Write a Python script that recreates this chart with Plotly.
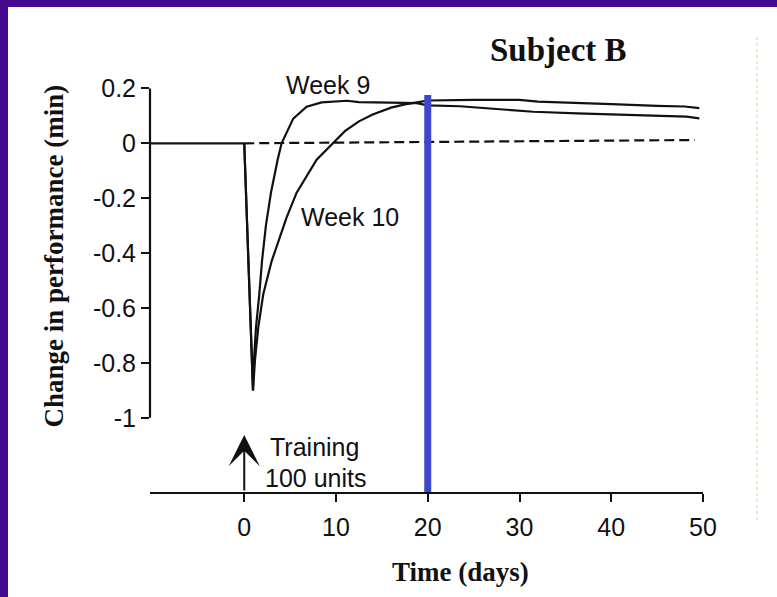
import plotly.graph_objects as go

# ---------------- data ----------------
week9_days = [0, 0.95, 1.06, 1.28, 1.64, 1.93, 2.36, 2.91, 3.64, 4.07, 5.34, 6.8, 8.43,
              11.2, 12.5, 14.0, 15.9, 18.8, 20.0, 23.5, 27.5, 31.5, 36.3, 42.4, 48.2, 49.6]
week9_vals = [0, -0.9, -0.79, -0.67, -0.55, -0.43, -0.30, -0.18, -0.06, 0.0, 0.09, 0.133, 0.149,
              0.155, 0.150, 0.148, 0.148, 0.146, 0.138, 0.135, 0.124, 0.115, 0.109, 0.103, 0.097, 0.091]

week10_days = [0, 0.95, 1.17, 1.53, 2.07, 2.98, 4.62, 5.71, 7.89, 9.7, 11.0, 12.5, 14.0,
               16.0, 17.5, 19.0, 20.0, 25.0, 30.0, 32.0, 36.0, 40.0, 45.0, 48.0, 49.6]
week10_vals = [0, -0.9, -0.79, -0.67, -0.55, -0.43, -0.27, -0.18, -0.06, 0.0, 0.045, 0.08, 0.105,
               0.13, 0.142, 0.15, 0.156, 0.158, 0.158, 0.152, 0.148, 0.143, 0.136, 0.134, 0.128]

baseline_dash_days = [0, 49.1]
baseline_dash_vals = [0, 0.012]

marker_day = 20          # blue vertical marker
marker_top = 0.176

training_day = 0
training_arrow_top = -1.063

x_ticks = [0, 10, 20, 30, 40, 50]
y_ticks = [-1, -0.8, -0.6, -0.4, -0.2, 0, 0.2]
y_ticktext = ["-1", "-0.8", "-0.6", "-0.4", "-0.2", "0", "0.2"]

# ---------------- layout geometry ----------------
W, H = 777, 597
L, R, T, B = 150, 74, 80, 105
X0_PX, PX_PER_DAY = 244.3, 9.18
Y0_PX, PX_PER_UNIT = 143.3, 274.5

x_range = [(L - X0_PX) / PX_PER_DAY, 50]
y_range = [(Y0_PX - (H - B)) / PX_PER_UNIT, (Y0_PX - T) / PX_PER_UNIT]


def px_x(p):
    return (p - L) / (W - L - R)


def px_y(p):
    return ((H - B) - p) / (H - T - B)


def data_to_paper_y(v):
    return (v - y_range[0]) / (y_range[1] - y_range[0])


SANS = "Liberation Sans, Arial, sans-serif"
SERIF = "Liberation Serif, Times New Roman, serif"
INK = "#111111"
LW = 2.2

fig = go.Figure()

# solid baseline before training
fig.add_trace(go.Scatter(x=[x_range[0], training_day], y=[0, 0], mode="lines",
                         line=dict(color=INK, width=LW), hoverinfo="skip"))
# dashed baseline after training
fig.add_trace(go.Scatter(x=baseline_dash_days, y=baseline_dash_vals, mode="lines",
                         line=dict(color=INK, width=LW, dash="10px,5px"), hoverinfo="skip"))
# curves
fig.add_trace(go.Scatter(x=week9_days, y=week9_vals, mode="lines", name="Week 9",
                         line=dict(color=INK, width=LW)))
fig.add_trace(go.Scatter(x=week10_days, y=week10_vals, mode="lines", name="Week 10",
                         line=dict(color=INK, width=LW)))
# blue marker line
fig.add_trace(go.Scatter(x=[marker_day, marker_day], y=[y_range[0], marker_top], mode="lines",
                         line=dict(color="#3f47c9", width=7), hoverinfo="skip"))

shapes = [
    # y axis line (only spans the tick range)
    dict(type="line", xref="paper", yref="paper", x0=0, x1=0,
         y0=data_to_paper_y(min(y_ticks)), y1=data_to_paper_y(max(y_ticks)),
         line=dict(color=INK, width=2.2), layer="above"),
    # purple frame (left and top)
    dict(type="rect", xref="paper", yref="paper", x0=px_x(-5), x1=px_x(8), y0=px_y(H + 5), y1=px_y(-5),
         fillcolor="#460a90", line=dict(width=0), layer="above"),
    dict(type="rect", xref="paper", yref="paper", x0=px_x(-5), x1=px_x(W + 5), y0=px_y(7), y1=px_y(-5),
         fillcolor="#460a90", line=dict(width=0), layer="above"),
    # faint dotted scan artefact at right
    dict(type="line", xref="paper", yref="paper", x0=px_x(757), x1=px_x(757), y0=px_y(520), y1=px_y(35),
         line=dict(color="rgba(235,190,110,0.55)", width=1.5, dash="dot")),
]

annotations = [
    dict(text="<b>Subject B</b>", xref="paper", yref="paper", x=px_x(558.7), y=px_y(50),
         xanchor="center", yanchor="middle", showarrow=False,
         font=dict(family=SERIF, size=33, color=INK)),
    dict(text="<b>Change in performance (min)</b>", xref="paper", yref="paper",
         x=px_x(53), y=px_y(256.5), textangle=-90, xanchor="center", yanchor="middle",
         showarrow=False, font=dict(family=SERIF, size=27, color=INK)),
    dict(text="<b>Time (days)</b>", xref="paper", yref="paper", x=px_x(460.5), y=px_y(571.7),
         xanchor="center", yanchor="middle", showarrow=False,
         font=dict(family=SERIF, size=27, color=INK)),
    dict(text="Week 9", xref="x", yref="y", x=9.15, y=0.212, xanchor="center", yanchor="middle",
         showarrow=False, font=dict(family=SANS, size=25, color=INK)),
    dict(text="Week 10", xref="x", yref="y", x=11.5, y=-0.267, xanchor="center", yanchor="middle",
         showarrow=False, font=dict(family=SANS, size=25, color=INK)),
    dict(text="Training", xref="x", yref="y", x=2.6, y=(Y0_PX - 447.3) / PX_PER_UNIT,
         xanchor="left", yanchor="middle", showarrow=False,
         font=dict(family=SANS, size=25, color=INK)),
    dict(text="100 units", xref="x", yref="y", x=2.07, y=(Y0_PX - 478.3) / PX_PER_UNIT,
         xanchor="left", yanchor="middle", showarrow=False,
         font=dict(family=SANS, size=25, color=INK)),
    # training arrow
    dict(text="", xref="x", yref="y", x=training_day, y=training_arrow_top,
         axref="x", ayref="y", ax=training_day, ay=y_range[0],
         showarrow=True, arrowhead=3, arrowsize=2.6, arrowwidth=2, arrowcolor=INK),
]

fig.update_layout(
    width=W, height=H,
    margin=dict(l=L, r=R, t=T, b=B, pad=0),
    paper_bgcolor="white", plot_bgcolor="white",
    showlegend=False,
    shapes=shapes,
    annotations=annotations,
    xaxis=dict(range=x_range, showgrid=False, zeroline=False, showline=True,
               linecolor=INK, linewidth=2.2, ticks="outside", ticklen=8, tickwidth=2,
               tickcolor=INK, tickvals=x_ticks, ticklabelstandoff=4,
               tickfont=dict(family=SANS, size=25, color=INK)),
    yaxis=dict(range=y_range, showgrid=False, zeroline=False, showline=False,
               ticks="outside", ticklen=8, tickwidth=2, tickcolor=INK,
               tickvals=y_ticks, ticktext=y_ticktext,
               tickfont=dict(family=SANS, size=25, color=INK)),
)

fig.write_html("out.html")
